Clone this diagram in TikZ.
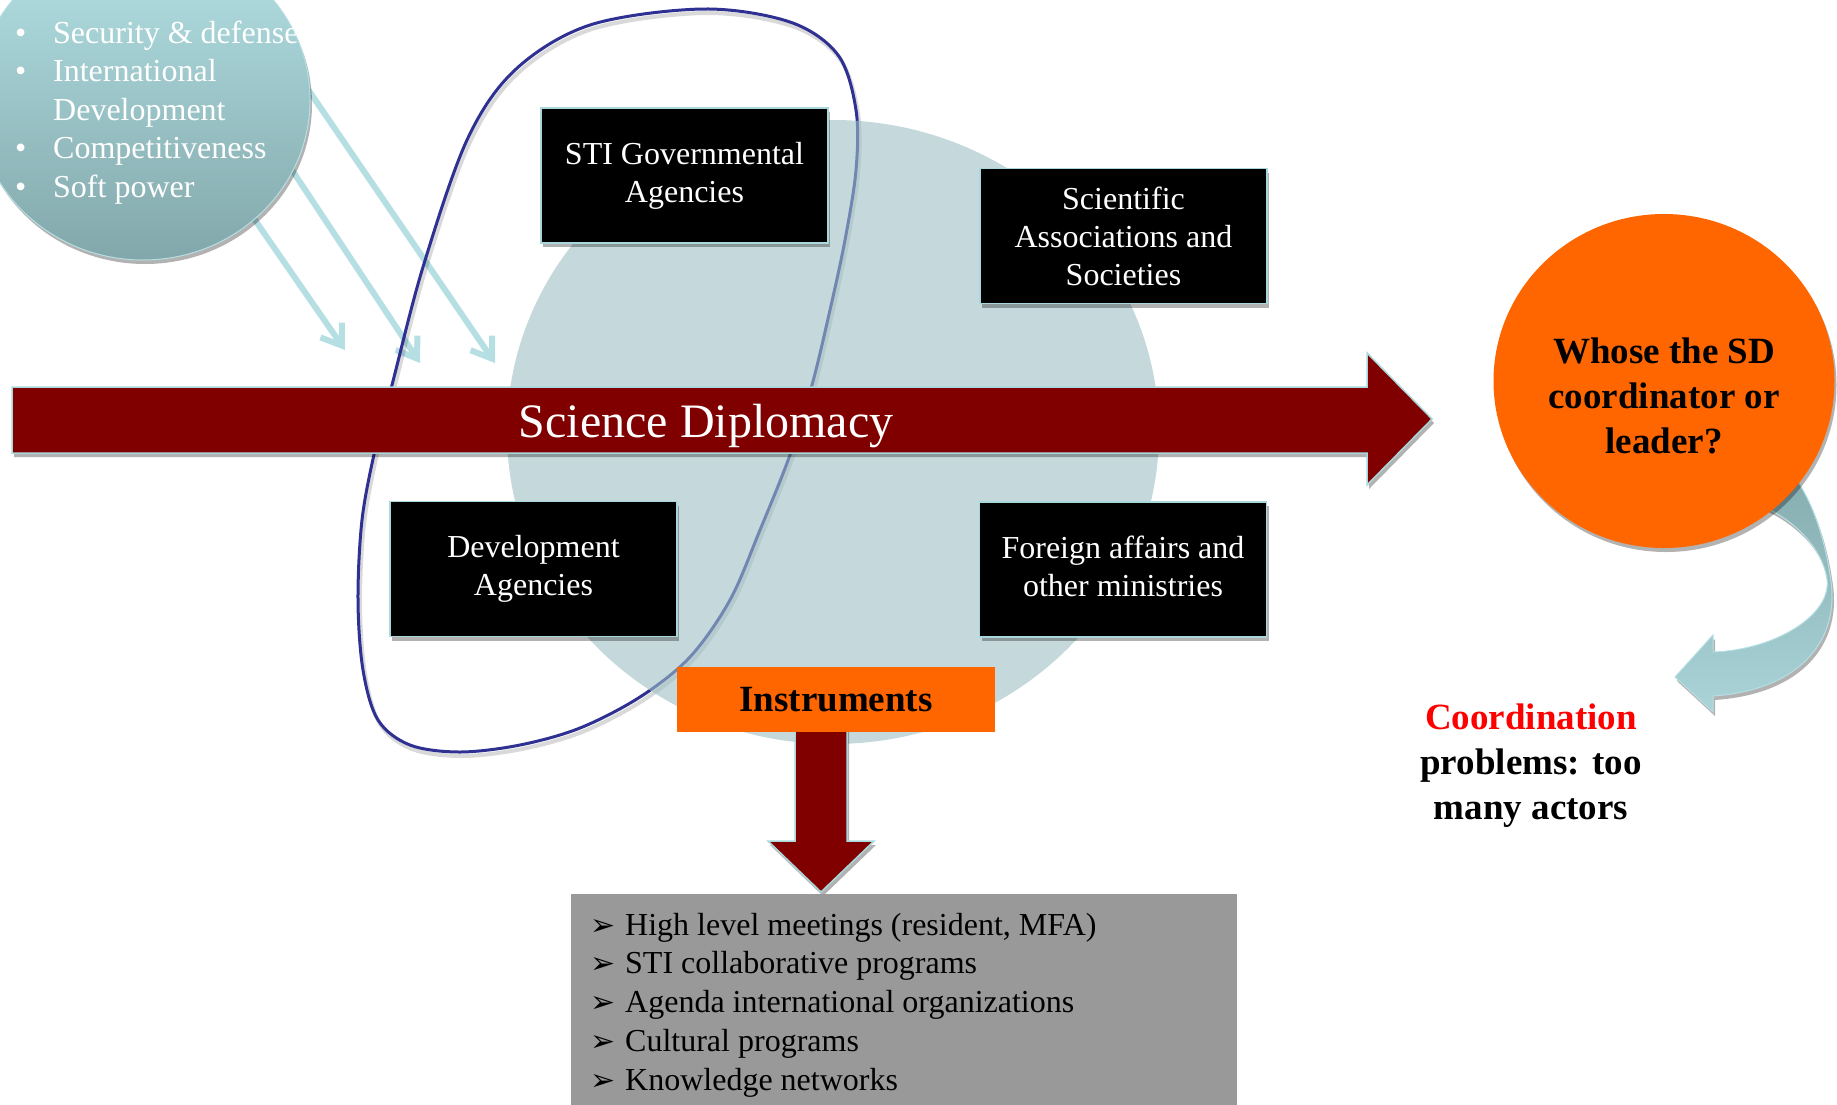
\documentclass[tikz,border=0pt]{standalone}
\usepackage{fontspec}
\setmainfont{Liberation Serif}
\newfontfamily\dejavu{DejaVu Sans}
\usetikzlibrary{shapes.geometric,shadows,arrows.meta}

\definecolor{sdred}{HTML}{800000}
\definecolor{sdorange}{HTML}{FF6600}
\definecolor{sdgray}{HTML}{999999}
\definecolor{loopblue}{HTML}{2E3192}
\definecolor{circfill}{RGB}{158,192,197}
\definecolor{pale}{HTML}{B6DFE3}
\definecolor{edgec}{HTML}{A8D8DC}
\definecolor{tealtop}{HTML}{B4E2E6}
\definecolor{tealbot}{HTML}{82A7AA}
\definecolor{ribtop}{HTML}{86ADB0}
\definecolor{ribbot}{HTML}{AAD4D8}
\definecolor{sdredtext}{HTML}{FF0000}

\newcommand{\listmark}{\makebox[35pt][l]{\dejavu\fontsize{30}{30}\selectfont ➢}}

\tikzset{
  softshadow/.style={drop shadow={shadow xshift=2pt, shadow yshift=-4pt, opacity=0.3, fill=black}},
  actor/.style={fill=black, draw=edgec, line width=1.5pt, minimum width=287pt, minimum height=135pt,
    text=white, align=center, font=\fontsize{32}{38}\selectfont, inner sep=0pt, softshadow},
  goalarrow/.style={draw=pale, line width=6pt, -{Straight Barb[length=19pt,width=26pt]}},
  blockarrow/.style={fill=sdred, draw=edgec, line width=1.5pt, softshadow},
  boldtext/.style={font=\bfseries\fontsize{37}{45}\selectfont, align=center, inner sep=0pt},
}

\begin{document}
\begin{tikzpicture}[x=1pt,y=-1pt]
\clip (0,0) rectangle (1837,1104);

% arrows from the goals ellipse
\coordinate (a1s) at (248,210);
\coordinate (a1e) at (345,350);
\coordinate (a2s) at (290,167);
\coordinate (a2e) at (420,363);
\coordinate (a3s) at (305,85);
\coordinate (a3e) at (495,363);
\draw[goalarrow] (a1s) -- (a1e);
\draw[goalarrow] (a2s) -- (a2e);
\draw[goalarrow] (a3s) -- (a3e);

% goals ellipse
\node[ellipse, minimum width=334pt, minimum height=320pt, top color=tealtop, bottom color=tealbot,
      draw=pale, line width=1pt, softshadow] (goals) at (143,100) {};
\begin{scope}
\clip (143,100) ellipse [x radius=167pt, y radius=160pt];
\node[anchor=west, text=white, align=left, font=\fontsize{32}{38.5}\selectfont, inner sep=0pt]
  (goallist) at (15,112.5)
  {\makebox[38pt][l]{•}Security \& defense\\
   \makebox[38pt][l]{•}International\\
   \hspace*{38pt}Development\\
   \makebox[38pt][l]{•}Competitiveness\\
   \makebox[38pt][l]{•}Soft power};
\end{scope}

% blue loop
\draw[black, opacity=0.15, line width=4pt, shift={(2,4)}] plot[smooth cycle, tension=0.55] coordinates {
 (703,9) (790,22) (838,55) (856,110) (856,170) (845,240) (830,310) (812,385) (790,455) (760,530)
 (730,600) (690,657) (640,697) (580,728) (520,745) (460,752) (410,745) (378,720) (363,670)
 (358,600) (362,520) (375,450) (392,385) (423,267) (467,140) (515,70) (590,25)};
\draw[loopblue, line width=3pt] plot[smooth cycle, tension=0.55] coordinates {
 (703,9) (790,22) (838,55) (856,110) (856,170) (845,240) (830,310) (812,385) (790,455) (760,530)
 (730,600) (690,657) (640,697) (580,728) (520,745) (460,752) (410,745) (378,720) (363,670)
 (358,600) (362,520) (375,450) (392,385) (423,267) (467,140) (515,70) (590,25)};

% central circle
\node[ellipse, minimum width=652pt, minimum height=624pt, fill=circfill, fill opacity=0.6, inner sep=0pt] (arena) at (833,432) {};

% actor boxes
\node[actor] (sti) at (684.5,175.5) {STI Governmental\\Agencies};
\node[actor] (sci) at (1123.5,236) {Scientific\\Associations and\\Societies};
\node[actor] (dev) at (533.5,569) {Development\\Agencies};
\node[actor] (fa) at (1123,569.5) {Foreign affairs and\\other ministries\vphantom{g}};

% science diplomacy arrow
\draw[blockarrow] (12,387) -- (1367,387) -- (1367,353) -- (1432,419) -- (1367,485) -- (1367,453) -- (12,453) -- cycle;
\node[anchor=base, text=white, font=\fontsize{48}{56}\selectfont, inner sep=0pt] (sd) at (706,437) {Science Diplomacy};

% instruments
\draw[blockarrow] (795,725) -- (847,725) -- (847,841) -- (874,841) -- (821,892) -- (768,841) -- (795,841) -- cycle;
\node[fill=sdorange, minimum width=318pt, minimum height=65pt, inner sep=0pt,
      font=\bfseries\fontsize{37}{45}\selectfont] (instr) at (836,699.5) {Instruments};
\node[fill=sdgray, minimum width=666pt, minimum height=220pt, anchor=north west, inner sep=0pt] (tools) at (571,894) {};
\node[anchor=west, align=left, font=\fontsize{32}{38.75}\selectfont, inner sep=0pt] (toollist) at (590,1005)
  {\listmark High level meetings (resident, MFA)\\
   \listmark STI collaborative programs\\
   \listmark Agenda international organizations\\
   \listmark Cultural programs\\
   \listmark Knowledge networks};

% curved ribbon arrow
\path[top color=ribtop, bottom color=ribbot, draw=pale, line width=1pt, softshadow]
  (1760,505) .. controls (1795,520) and (1822,548) .. (1827,579)
  .. controls (1832,615) and (1775,650) .. (1713,652)
  -- (1713,635) -- (1675,677) -- (1713,712) -- (1713,696)
  .. controls (1800,690) and (1842,640) .. (1830,575)
  .. controls (1825,540) and (1812,500) .. (1795,478) -- cycle;

% leader circle
\node[ellipse, minimum width=341pt, minimum height=334pt, fill=sdorange, inner sep=0pt, softshadow] (lead) at (1664,381) {};
\node[boldtext] (leadtxt) at (1664,395.5) {Whose the SD\\coordinator or\\leader?};

% coordination note
\node[boldtext] (coord) at (1531,765.5) {\textcolor{sdredtext}{Coordination}\\problems: too\\many actors};
\end{tikzpicture}
\end{document}
